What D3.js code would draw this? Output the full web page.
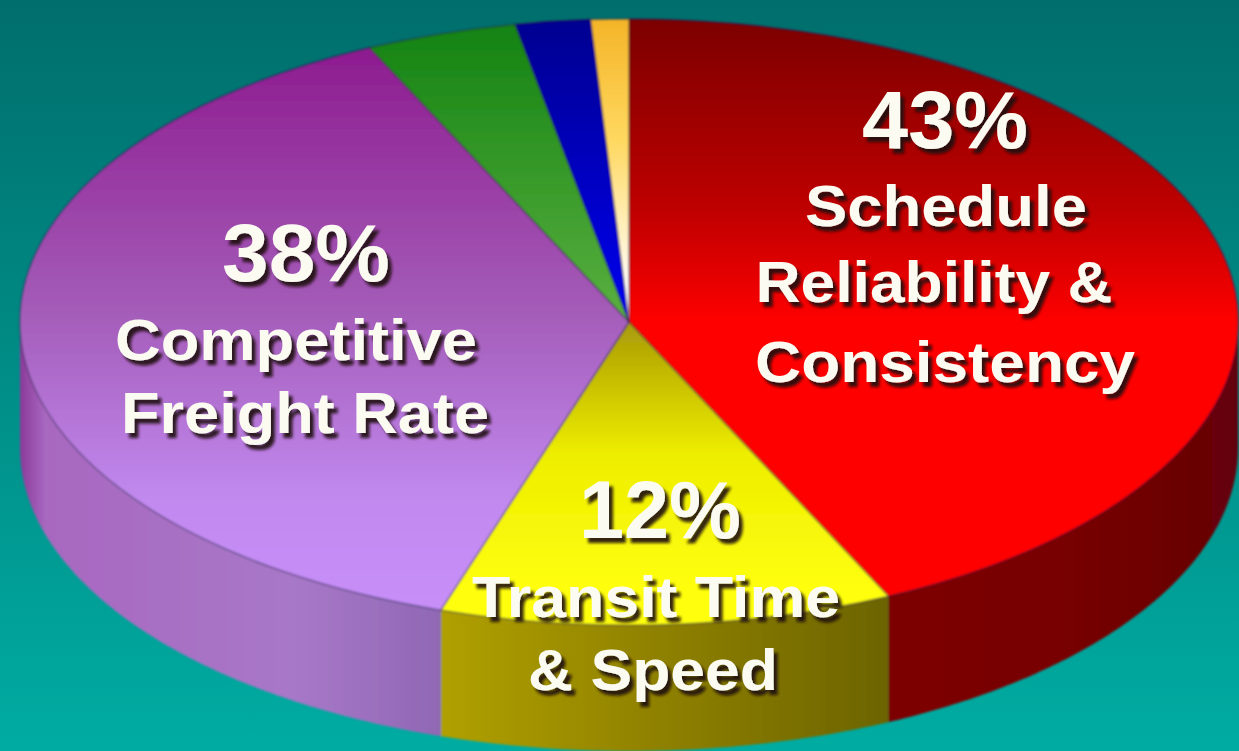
<!DOCTYPE html>
<html><head><meta charset="utf-8">
<script src="https://cdn.jsdelivr.net/npm/d3@7"></script>
<style>html,body{margin:0;padding:0;background:#008a86}svg{display:block}</style>
</head><body><svg id="c" width="1239" height="751"></svg>
<script>
const categories=["Schedule Reliability & Consistency","Transit Time & Speed","Competitive Freight Rate","Other A","Other B","Other C"];
const values=[43,12,38,4,2,1];
// [offset within the face (0 top, 1 bottom), colour]
const topStops=[
 [[0,"#7c0000"],[0.32,"#c00000"],[0.5,"#ff0000"],[1,"#ff0000"]],
 [[0.5,"#a89a08"],[0.72,"#eeee00"],[0.95,"#ffff10"]],
 [[0.05,"#8e1c90"],[0.48,"#a45cb8"],[0.8,"#c28af0"],[1,"#c88ffa"]],
 [[0,"#128212"],[0.5,"#5ab040"]],
 [[0,"#000090"],[0.5,"#0000f0"]],
 [[0,"#f4b428"],[0.2,"#ffd860"],[0.45,"#ffffff"]]];
const sideStops=[
 [[0,"#7c0006"],[0.5,"#780000"],[1,"#640008"]],
 [[0,"#b0a004"],[0.5,"#8e8000"],[1,"#6c6400"]],
 [[0,"#8a3a9a"],[0.06,"#a868c0"],[0.65,"#a878c8"],[1,"#9068b4"]],
 [[0,"#128212"],[1,"#128212"]],
 [[0,"#000090"],[1,"#000090"]],
 [[0,"#f4b428"],[1,"#f4b428"]]];
const W=1239,H=751,cx=629,cy=322,rx=609,ry=303,depth=126;
const svg=d3.select("#c"),defs=svg.append("defs");
const bg=defs.append("linearGradient").attr("id","bg").attr("x1",0).attr("y1",0).attr("x2",0).attr("y2",1);
bg.append("stop").attr("offset",0).attr("stop-color","#006e6c");
bg.append("stop").attr("offset",1).attr("stop-color","#00aca2");
svg.append("rect").attr("width",W).attr("height",H).attr("fill","url(#bg)");
const blur=defs.append("filter").attr("id","soft");blur.append("feGaussianBlur").attr("stdDeviation",0.9);
const sh=defs.append("filter").attr("id","sh").attr("x","-20%").attr("y","-30%").attr("width","140%").attr("height","160%");
sh.append("feGaussianBlur").attr("in","SourceGraphic").attr("stdDeviation",0.7).attr("result","b");
sh.append("feDropShadow").attr("in","b").attr("dx",4).attr("dy",5).attr("stdDeviation",1.4).attr("flood-color","#1c1008").attr("flood-opacity",.9);
const arcs=d3.pie().sort(null).value(d=>d)(values);
const chart=svg.append("g").attr("filter","url(#soft)");
const px=a=>cx+rx*Math.sin(a),py=a=>cy-ry*Math.cos(a);
arcs.forEach((d,i)=>{
  // the top faces are drawn in unit-circle space, so the gradient runs from -1 to 1
  const t=defs.append("linearGradient").attr("id","t"+i).attr("gradientUnits","userSpaceOnUse").attr("x1",0).attr("x2",0).attr("y1",-1).attr("y2",1);
  topStops[i].forEach(s=>t.append("stop").attr("offset",s[0]).attr("stop-color",s[1]));
  const s=defs.append("linearGradient").attr("id","s"+i).attr("gradientUnits","userSpaceOnUse").attr("y1",0).attr("y2",0);
  if(i==0)s.attr("x1",px(d.endAngle)).attr("x2",cx+rx);
  else if(i==1)s.attr("x1",px(d.endAngle)).attr("x2",px(d.startAngle));
  else s.attr("x1",cx-rx).attr("x2",px(d.startAngle));
  sideStops[i].forEach(c=>s.append("stop").attr("offset",c[0]).attr("stop-color",c[1]));
});
const wall=d3.line();
arcs.forEach((d,i)=>{
  const a0=Math.max(d.startAngle,Math.PI/2),a1=Math.min(d.endAngle,Math.PI*1.5);
  if(a1<=a0)return;
  const as=d3.range(a0,a1,0.01).concat(a1);
  const pts=as.map(a=>[px(a),py(a)]).concat(as.slice().reverse().map(a=>[px(a),py(a)+depth]));
  chart.append("path").attr("d",wall(pts)+"Z").attr("fill",`url(#s${i})`);
});
const arc=d3.arc().innerRadius(0).outerRadius(1);
chart.selectAll("path.top").data(arcs).join("path").attr("class","top")
  .attr("transform",`translate(${cx},${cy}) scale(${rx},${ry})`)
  .attr("d",arc).attr("fill",(d,i)=>`url(#t${i})`)
  .attr("stroke","#301040").attr("stroke-opacity",.45).attr("stroke-width",1.5).attr("vector-effect","non-scaling-stroke");
const labels=[
 {t:"43%",x:945,y:148,s:82,w:166},{t:"Schedule",x:946,y:226,s:58,w:282},{t:"Reliability &",x:934,y:302,s:58,w:357},{t:"Consistency",x:945,y:382,s:58,w:380},
 {t:"38%",x:306,y:281,s:82,w:168},{t:"Competitive",x:296,y:360,s:58,w:362},{t:"Freight Rate",x:305,y:433,s:58,w:368},
 {t:"12%",x:660,y:538,s:82,w:162},{t:"Transit Time",x:656,y:617,s:58,w:368},{t:"& Speed",x:653,y:690,s:58,w:250}];
svg.append("g").attr("font-family","'Liberation Sans',Arial,sans-serif").attr("font-weight","700").attr("text-anchor","middle")
  .selectAll("text").data(labels).join("text").attr("x",d=>d.x).attr("y",d=>d.y).attr("font-size",d=>d.s)
  .attr("textLength",d=>d.w).attr("lengthAdjust","spacingAndGlyphs").attr("fill","#fbfbf2").attr("filter","url(#sh)").text(d=>d.t);
</script></body></html>
